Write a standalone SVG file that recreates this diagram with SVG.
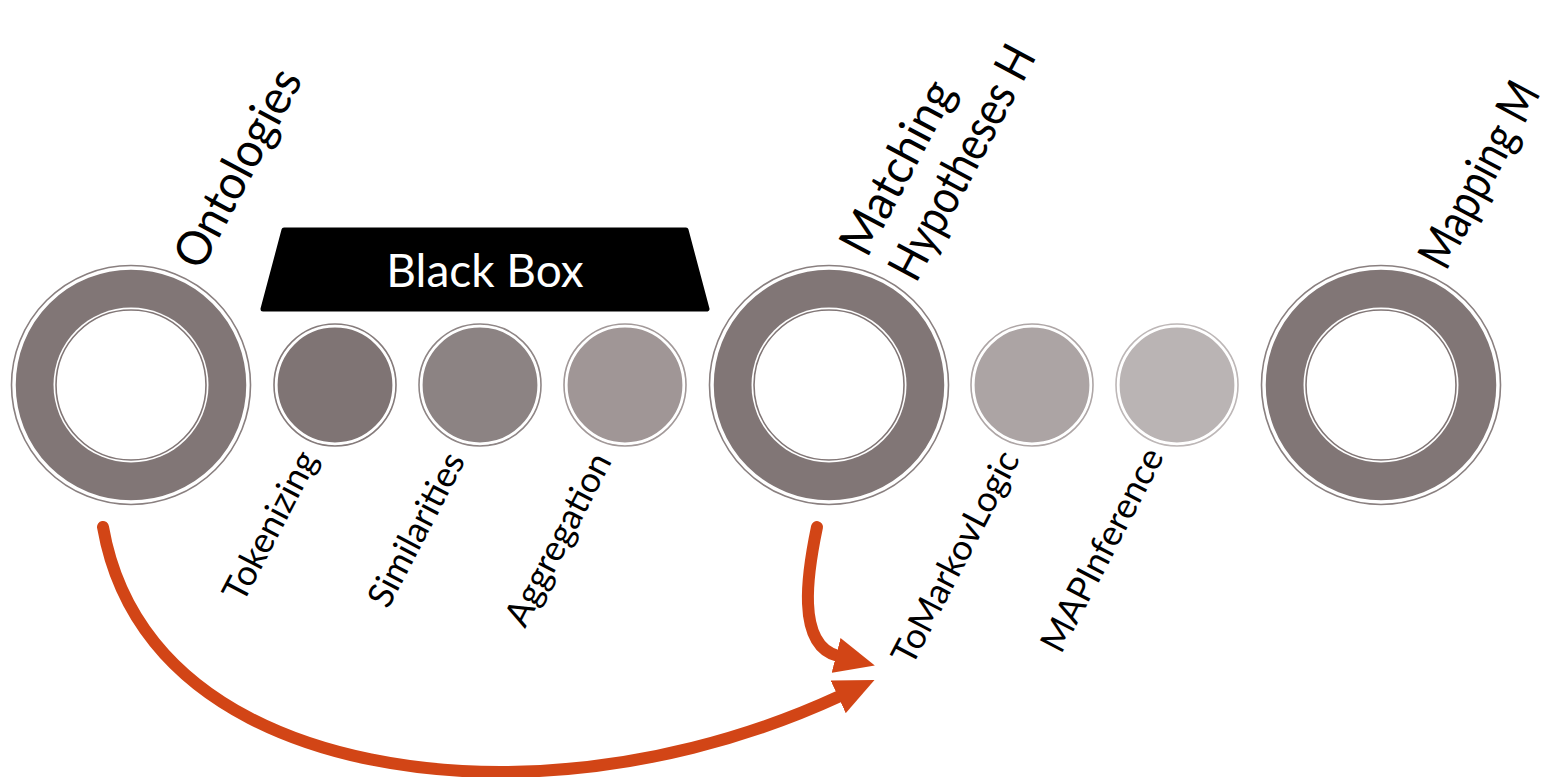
<svg xmlns="http://www.w3.org/2000/svg" width="1553" height="777" viewBox="0 0 1553 777">
<style>
.lbl{font-family:Lato,"Open Sans","DejaVu Sans",sans-serif;fill:#000}
.big{font-size:48px}
.sm{font-size:35.5px}
.ring-o{fill:none;stroke-width:1.6}
.conn{fill:none;stroke:#D24516;stroke-width:12;stroke-linecap:round}
</style>
<defs>
<marker id="ah" viewBox="0 0 40 36" refX="2" refY="18" markerWidth="40" markerHeight="36" markerUnits="userSpaceOnUse" orient="auto">
<path d="M0,0 L40,18 L0,36 z" fill="#D24516"/>
</marker>
<g id="bigring">
<circle r="119.5" class="ring-o" stroke="#8a8080"/>
<circle r="116.5" fill="#817676" stroke="#fff" stroke-width="2.5"/>
<circle r="77.5" fill="#fff"/>
<circle r="75" fill="#fff" stroke="#817676" stroke-width="1.6"/>
</g>
</defs>
<rect width="1553" height="777" fill="#fff"/>

<g id="ontologies">
<use href="#bigring" x="131" y="385"/>
<text class="lbl big" transform="translate(201,272) rotate(-62)" textLength="218" lengthAdjust="spacingAndGlyphs">Ontologies</text>
</g>

<g id="blackbox">
<polygon points="284,230 686,230 707,309 263,309" fill="#000" stroke="#000" stroke-width="5" stroke-linejoin="round"/>
<text x="485" y="287" text-anchor="middle" font-family="Lato,'Open Sans',sans-serif" font-size="46" fill="#fff">Black Box</text>
</g>

<g id="tokenizing">
<circle cx="335" cy="385" r="61" class="ring-o" stroke="#857b7b"/>
<circle cx="335" cy="385" r="58.5" fill="#7f7474" stroke="#fff" stroke-width="2.2"/>
<text class="lbl sm" transform="translate(243,604) rotate(-62.5)">Tokenizing</text>
</g>

<g id="similarities">
<circle cx="480" cy="385" r="61" class="ring-o" stroke="#8f8686"/>
<circle cx="480" cy="385" r="58.5" fill="#8c8383" stroke="#fff" stroke-width="2.2"/>
<text class="lbl sm" transform="translate(388,610) rotate(-62.5)">Similarities</text>
</g>

<g id="aggregation">
<circle cx="625" cy="385" r="61" class="ring-o" stroke="#a29999"/>
<circle cx="625" cy="385" r="58.5" fill="#a09696" stroke="#fff" stroke-width="2.2"/>
<text class="lbl sm" transform="translate(525,629) rotate(-62.5)">Aggregation</text>
</g>

<g id="matching">
<use href="#bigring" x="829" y="385"/>
<text class="lbl big" transform="translate(867,259) rotate(-62)" textLength="190" lengthAdjust="spacingAndGlyphs">Matching</text>
<text class="lbl big" transform="translate(916,284) rotate(-62)" textLength="258" lengthAdjust="spacingAndGlyphs">Hypotheses H</text>
</g>

<g id="tomarkovlogic">
<circle cx="1032" cy="385" r="61" class="ring-o" stroke="#aea6a6"/>
<circle cx="1032" cy="385" r="58.5" fill="#aca4a4" stroke="#fff" stroke-width="2.2"/>
<text class="lbl sm" transform="translate(912,667) rotate(-62.5)">ToMarkovLogic</text>
</g>

<g id="mapinference">
<circle cx="1177" cy="385" r="61" class="ring-o" stroke="#bdb7b7"/>
<circle cx="1177" cy="385" r="58.5" fill="#bab4b4" stroke="#fff" stroke-width="2.2"/>
<text class="lbl sm" transform="translate(1061,655) rotate(-62.5)">MAPInference</text>
</g>

<g id="mapping">
<use href="#bigring" x="1381" y="385"/>
<text class="lbl big" transform="translate(1446,272) rotate(-62)" textLength="203" lengthAdjust="spacingAndGlyphs">Mapping M</text>
</g>

<g id="connectors">
<path class="conn" d="M103,527 C135,710 330,772 500,772 C640,772 760,733 840,696" marker-end="url(#ah)"/>
<path class="conn" d="M817,527 C808,570 795,645 838,656" marker-end="url(#ah)"/>
</g>
</svg>
